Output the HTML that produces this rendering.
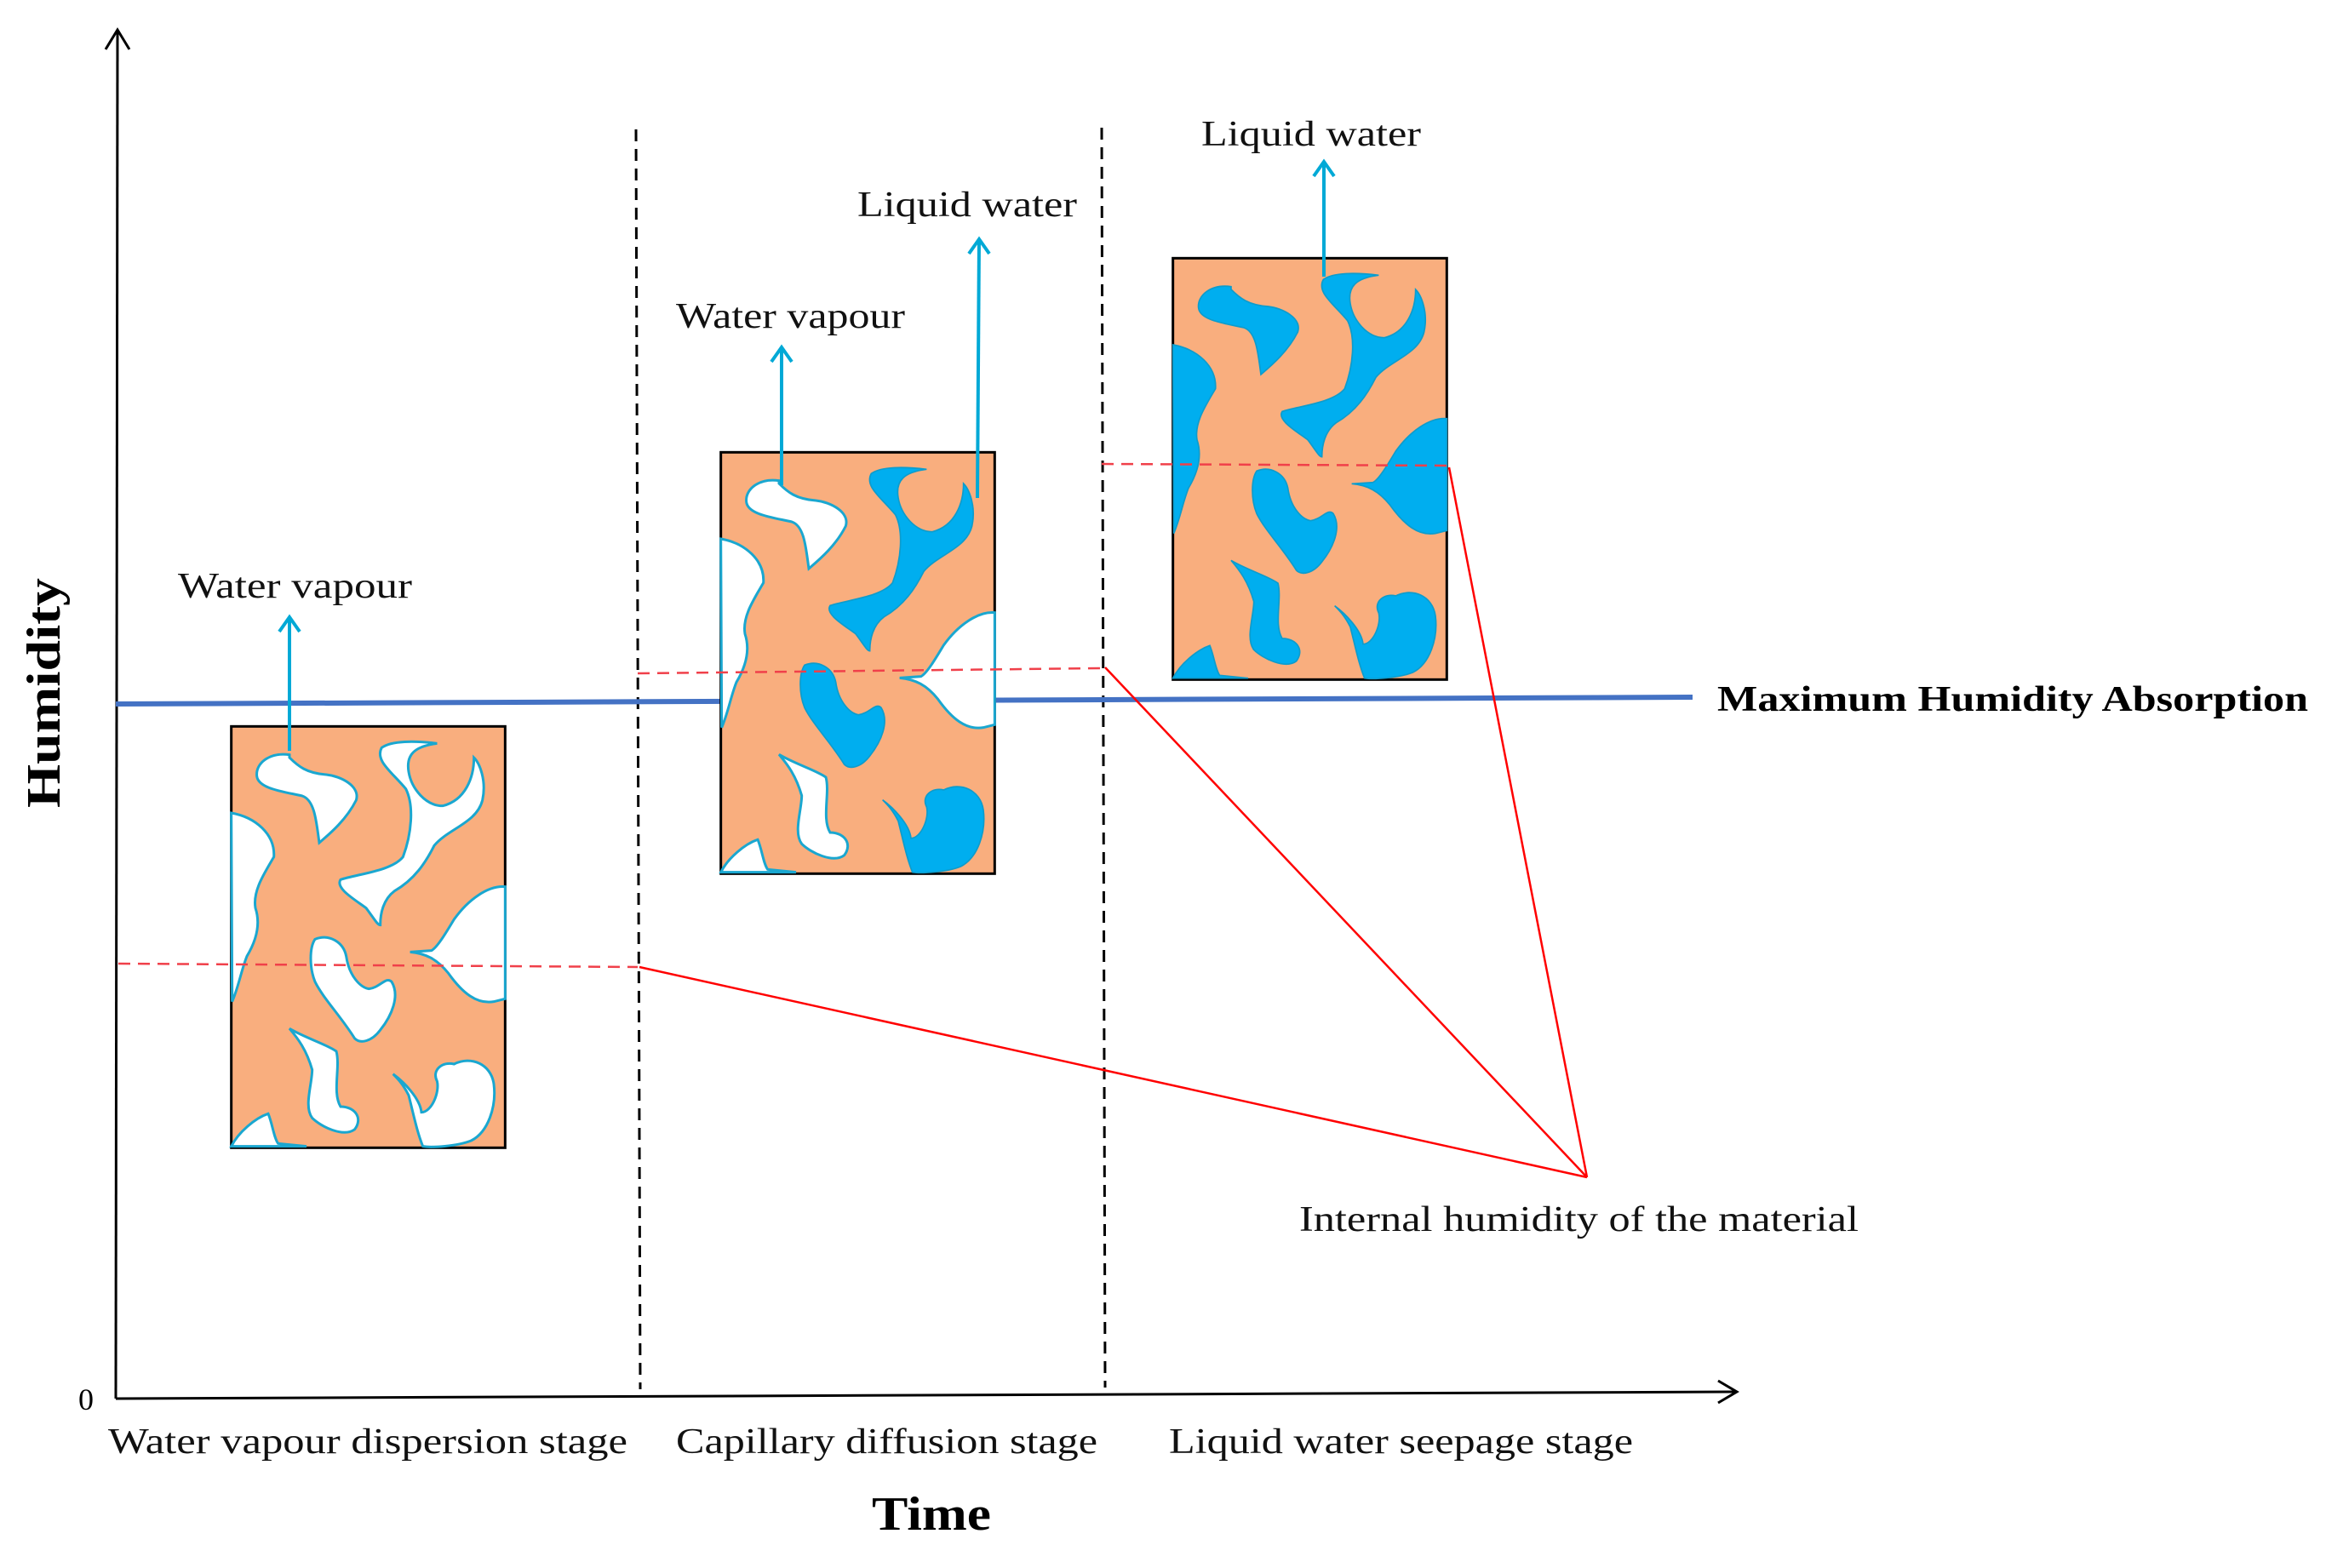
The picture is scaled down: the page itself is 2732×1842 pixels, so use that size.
<!DOCTYPE html>
<html><head><meta charset="utf-8"><style>html,body{margin:0;padding:0;background:#fff}svg{display:block}</style></head>
<body>
<svg width="2732" height="1842" viewBox="0 0 2732 1842" xmlns="http://www.w3.org/2000/svg" font-family="'Liberation Serif', serif">
<defs>
<g id="A"><path d="M240,140 C170,130 120,170 125,215 C130,260 220,270 285,285 C330,300 335,380 345,450 C380,420 440,370 475,300 C490,250 420,215 370,210 C300,205 270,180 240,150 Z"/></g>
<g id="B"><path d="M760,100 C680,90 600,90 565,115 C540,160 600,200 650,260 C680,320 670,420 640,500 C600,550 480,560 420,580 C400,610 470,650 510,680 C540,720 550,740 560,740 C560,700 570,650 610,620 C680,580 720,520 750,460 C800,400 900,380 920,300 C935,230 910,170 890,150 C890,220 860,300 780,320 C720,320 670,260 660,200 C650,140 680,110 760,100 Z"/></g>
<g id="C"><path d="M35,345 C120,360 190,420 185,500 C150,560 110,620 120,680 C140,740 120,800 90,850 C70,900 60,960 38,1010 Z"/></g>
<g id="D"><path d="M330,790 C380,770 430,800 440,850 C450,920 490,960 520,965 C560,960 580,920 600,940 C630,990 600,1060 560,1110 C530,1150 490,1160 470,1140 C420,1060 360,1000 330,940 C310,890 310,820 330,790 Z"/></g>
<g id="E"><path d="M1000,605 C940,600 870,650 820,720 C790,770 760,820 740,830 L665,835 C720,840 760,860 800,910 C850,980 900,1020 960,1010 L1000,1000 Z"/></g>
<g id="F"><path d="M240,1105 C300,1140 370,1160 405,1185 C420,1240 390,1330 420,1380 C470,1380 500,1420 470,1460 C430,1490 350,1450 320,1420 C290,1380 320,1300 320,1250 C300,1180 270,1140 240,1105 Z"/></g>
<g id="G"><path d="M605,1265 C640,1290 700,1350 705,1400 C740,1400 770,1330 760,1290 C740,1250 780,1220 820,1230 C880,1200 950,1230 960,1300 C970,1380 940,1470 880,1500 C830,1520 740,1525 710,1520 C690,1470 680,1420 660,1340 C640,1300 620,1280 605,1265 Z"/></g>
<g id="H"><path d="M35,1520 C60,1470 120,1420 165,1405 C180,1440 185,1490 200,1510 L300,1520 Z"/></g>
</defs>

<!-- axes -->
<line x1="136" y1="1643" x2="138" y2="35" stroke="#000" stroke-width="3"/>
<polyline points="124,58 138,35 152,58" fill="none" stroke="#000" stroke-width="3"/>
<line x1="136" y1="1643" x2="2040" y2="1635" stroke="#000" stroke-width="3"/>
<polyline points="2018,1622 2040,1635 2018,1648" fill="none" stroke="#000" stroke-width="3"/>
<text x="101" y="1656" font-size="36" text-anchor="middle">0</text>

<!-- dashed verticals -->
<line x1="747" y1="152" x2="752" y2="1632" stroke="#000" stroke-width="3" stroke-dasharray="14,9"/>
<line x1="1294" y1="150" x2="1298" y2="1630" stroke="#000" stroke-width="3" stroke-dasharray="14,9"/>

<!-- max humidity line -->
<line x1="136" y1="827" x2="1988" y2="819" stroke="#4472c4" stroke-width="6"/>
<text x="2017" y="835" font-size="42" font-weight="bold" textLength="694" lengthAdjust="spacingAndGlyphs">Maximum Humidity Absorption</text>

<!-- box 1 -->
<g transform="translate(260,840) scale(0.33333)">
<rect x="35" y="40" width="965" height="1485" fill="#F9AE7E" stroke="#000" stroke-width="9"/>
<g fill="#fff" stroke="#1aa7d0" stroke-width="9">
<use href="#A"/><use href="#B"/><use href="#C"/><use href="#D"/><use href="#E"/><use href="#F"/><use href="#G"/><use href="#H"/>
</g></g>

<!-- box 2 -->
<g transform="translate(835,518) scale(0.33333)">
<rect x="35" y="40" width="965" height="1485" fill="#F9AE7E" stroke="#000" stroke-width="9"/>
<g fill="#fff" stroke="#1aa7d0" stroke-width="9">
<use href="#A"/><use href="#C"/><use href="#E"/><use href="#F"/><use href="#H"/>
</g>
<g fill="#00aeef" stroke="#0d9ccc" stroke-width="5">
<use href="#B"/><use href="#D"/><use href="#G"/>
</g></g>

<!-- box 3 -->
<g transform="translate(1366,290) scale(0.33333)">
<rect x="35" y="40" width="965" height="1485" fill="#F9AE7E" stroke="#000" stroke-width="9"/>
<g fill="#00aeef" stroke="#0d9ccc" stroke-width="5">
<use href="#A"/><use href="#B"/><use href="#C"/><use href="#D"/><use href="#E"/><use href="#F"/><use href="#G"/><use href="#H"/>
</g></g>

<!-- cyan arrows -->
<g stroke="#00a9d6" stroke-width="4" fill="none">
<line x1="340" y1="882" x2="340" y2="725"/><polyline points="328,742 340,725 352,742"/>
<line x1="918" y1="570" x2="918" y2="408"/><polyline points="906,425 918,408 930,425"/>
<line x1="1148" y1="585" x2="1150" y2="281"/><polyline points="1138,298 1150,281 1162,298"/>
<line x1="1555" y1="325" x2="1555" y2="190"/><polyline points="1543,207 1555,190 1567,207"/>
</g>

<!-- red dashed -->
<g stroke="#f0404a" stroke-width="2.5" stroke-dasharray="14,9" fill="none">
<line x1="139" y1="1132" x2="749" y2="1136"/>
<line x1="749" y1="791" x2="1294" y2="785"/>
<line x1="1294" y1="545" x2="1702" y2="547"/>
</g>
<!-- red solid -->
<g stroke="#f00" stroke-width="2.5" fill="none">
<line x1="751" y1="1136" x2="1864" y2="1383"/>
<line x1="1298" y1="784" x2="1864" y2="1383"/>
<line x1="1702" y1="549" x2="1864" y2="1383"/>
</g>

<!-- labels -->
<g font-size="42" fill="#111">
<text x="209" y="702" textLength="275" lengthAdjust="spacingAndGlyphs">Water vapour</text>
<text x="794" y="385" textLength="269" lengthAdjust="spacingAndGlyphs">Water vapour</text>
<text x="1007" y="254" textLength="258" lengthAdjust="spacingAndGlyphs">Liquid water</text>
<text x="1411" y="171" textLength="258" lengthAdjust="spacingAndGlyphs">Liquid water</text>
<text x="1526" y="1446" textLength="657" lengthAdjust="spacingAndGlyphs">Internal humidity of the material</text>
<text x="127" y="1707" textLength="610" lengthAdjust="spacingAndGlyphs">Water vapour dispersion stage</text>
<text x="794" y="1707" textLength="495" lengthAdjust="spacingAndGlyphs">Capillary diffusion stage</text>
<text x="1373" y="1707" textLength="545" lengthAdjust="spacingAndGlyphs">Liquid water seepage stage</text>
</g>
<text x="1024" y="1797" font-size="56" font-weight="bold" textLength="140" lengthAdjust="spacingAndGlyphs">Time</text>
<text transform="translate(70,814) rotate(-90)" x="0" y="0" font-size="56" font-weight="bold" text-anchor="middle" textLength="270" lengthAdjust="spacingAndGlyphs">Humidity</text>
</svg>
</body></html>
